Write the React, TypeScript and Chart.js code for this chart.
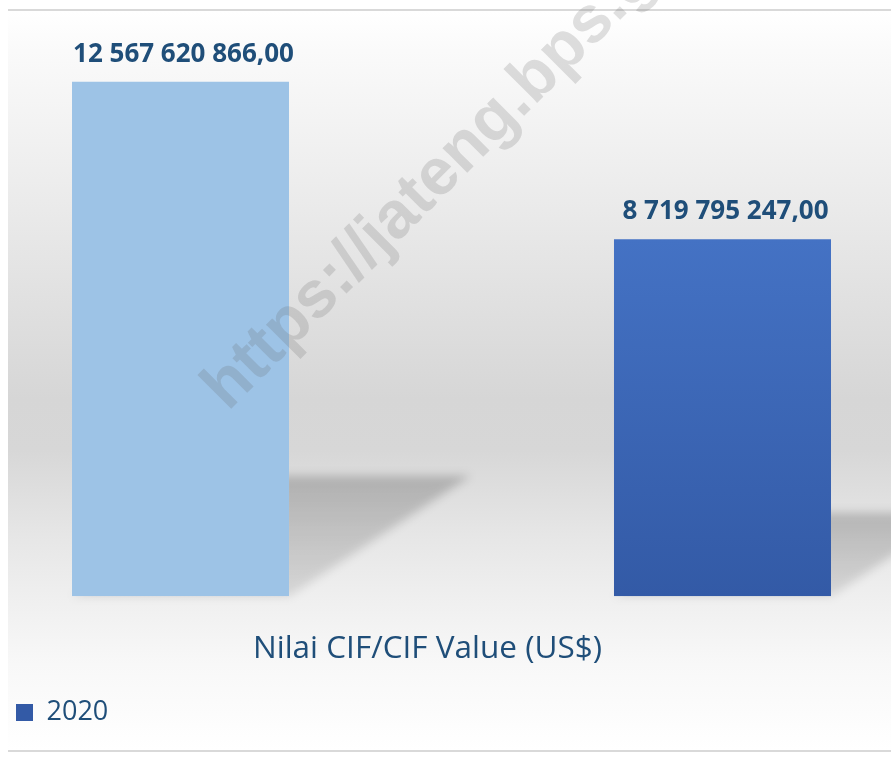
import { useEffect, useRef } from 'react';
import { Chart, registerables } from 'chart.js';

Chart.register(...registerables);

// ---- data ----
const categories = ['Nilai CIF/CIF Value (US$)'];
const seriesNames = ['2019', '2020'];
const valuesFirst = [12567620866.0];
const valuesSecond = [8719795247.0];
const legendShown = ['2020'];
const watermarkText = 'https://jateng.bps.go.id';

const FONT = '"Open Sans", "Noto Sans", sans-serif';
const TEXT_COLOR = '#1f4e79';

function formatValue(v: number): string {
  const [intPart, dec] = v.toFixed(2).split('.');
  const grouped = intPart.replace(/\B(?=(\d{3})+(?!\d))/g, ' ');
  return grouped + ',' + dec;
}

const shadowPlugin = {
  id: 'perspectiveShadow',
  beforeDatasetsDraw(chart: any) {
    const ctx = chart.ctx;
    chart.data.datasets.forEach((_d: any, di: number) => {
      const meta = chart.getDatasetMeta(di);
      meta.data.forEach((el: any) => {
        const w = el.width;
        const h = el.base - el.y;
        const dx = h * 0.353;
        const dy = h * 0.234;
        const l = el.x - w / 2;
        const r = el.x + w / 2;
        ctx.save();
        ctx.filter = 'blur(5px)';
        const g = ctx.createLinearGradient(0, el.base - dy, 0, el.base);
        g.addColorStop(0, 'rgba(0,0,0,0.20)');
        g.addColorStop(1, 'rgba(0,0,0,0.10)');
        ctx.fillStyle = g;
        ctx.beginPath();
        ctx.moveTo(l, el.base);
        ctx.lineTo(r, el.base);
        ctx.lineTo(r + dx, el.base - dy);
        ctx.lineTo(l + dx, el.base - dy);
        ctx.closePath();
        ctx.fill();
        ctx.restore();
      });
    });
  },
};

const valueLabelPlugin = {
  id: 'valueLabels',
  afterDatasetsDraw(chart: any) {
    const ctx = chart.ctx;
    ctx.save();
    ctx.font = `bold 26px ${FONT}`;
    ctx.fillStyle = TEXT_COLOR;
    ctx.textAlign = 'center';
    ctx.textBaseline = 'alphabetic';
    chart.data.datasets.forEach((d: any, di: number) => {
      const meta = chart.getDatasetMeta(di);
      meta.data.forEach((el: any, i: number) => {
        ctx.fillText(formatValue(d.data[i]), el.x + 3, el.y - 20);
      });
    });
    ctx.restore();
  },
};

const watermarkPlugin = {
  id: 'watermark',
  afterDraw(chart: any) {
    const ctx = chart.ctx;
    ctx.save();
    ctx.translate(228, 412);
    ctx.rotate(-Math.PI / 4);
    ctx.font = `bold 66px "Liberation Sans", Arial, sans-serif`;
    ctx.fillStyle = 'rgba(100,100,100,0.2)';
    ctx.textAlign = 'left';
    ctx.textBaseline = 'alphabetic';
    ctx.fillText(watermarkText, 0, 0);
    ctx.restore();
  },
};

export default function App() {
  const canvasRef = useRef<HTMLCanvasElement | null>(null);

  useEffect(() => {
    if (!canvasRef.current) return;
    const secondColor = (c: any) => {
      const chart = c.chart;
      if (c.type !== 'data' || !chart.chartArea) return '#3d67b7';
      const yScale = chart.scales.y;
      const top = yScale.getPixelForValue(c.raw);
      const bottom = yScale.getPixelForValue(0);
      const g = chart.ctx.createLinearGradient(0, top, 0, bottom);
      g.addColorStop(0, '#4472c4');
      g.addColorStop(1, '#335aa6');
      return g;
    };
    const chart = new Chart(canvasRef.current, {
      type: 'bar',
      data: {
        labels: categories,
        datasets: [
          {
            label: seriesNames[0],
            data: valuesFirst,
            backgroundColor: '#9dc3e6',
            borderWidth: 0,
            categoryPercentage: 1.2332,
            barPercentage: 0.4004,
          },
          {
            label: seriesNames[1],
            data: valuesSecond,
            backgroundColor: secondColor,
            borderWidth: 0,
            categoryPercentage: 1.2332,
            barPercentage: 0.4004,
          },
        ],
      },
      options: {
        animation: false,
        responsive: false,
        devicePixelRatio: 1,
        layout: { padding: { left: 12, right: 0, top: 23, bottom: 47 } },
        scales: {
          x: {
            grid: { display: false, drawTicks: false },
            border: { display: false },
            ticks: {
              font: { family: FONT, size: 31.5 },
              color: TEXT_COLOR,
              padding: 34,
              labelOffset: -24,
            },
            afterFit: (s: any) => {
              s.height -= 7;
            },
          },
          y: { display: false, min: 0, max: 14e9 },
        },
        plugins: {
          legend: {
            position: 'bottom',
            align: 'start',
            labels: {
              boxWidth: 17,
              boxHeight: 17,
              padding: 4,
              color: TEXT_COLOR,
              font: { family: FONT, size: 27 },
              filter: (item: any) => legendShown.includes(item.text),
            },
          },
          tooltip: { enabled: false },
        },
      },
      plugins: [shadowPlugin, valueLabelPlugin, watermarkPlugin],
    } as any);
    return () => chart.destroy();
  }, []);

  return (
    <div style={{ position: 'absolute', left: 0, top: 0, width: 891, height: 783, background: '#ffffff', overflow: 'hidden' }}>
      <div
        style={{
          position: 'absolute',
          left: 8,
          top: 9,
          width: 883,
          height: 743,
          boxSizing: 'border-box',
          borderTop: '2px solid #d9d9d9',
          borderBottom: '2px solid #d9d9d9',
          background:
            'linear-gradient(to bottom, #ffffff 0%, #fafafa 5.4%, #ebebeb 25.6%, #d6d6d6 52.6%, #d7d7d7 59.4%, #e6e6e6 70.9%, #eeeeee 78.3%, #f8f8f8 88.4%, #ffffff 100%)',
        }}
      />
      <canvas ref={canvasRef} width={891} height={783} style={{ position: 'absolute', left: 0, top: 0, width: 891, height: 783 }} />
    </div>
  );
}
